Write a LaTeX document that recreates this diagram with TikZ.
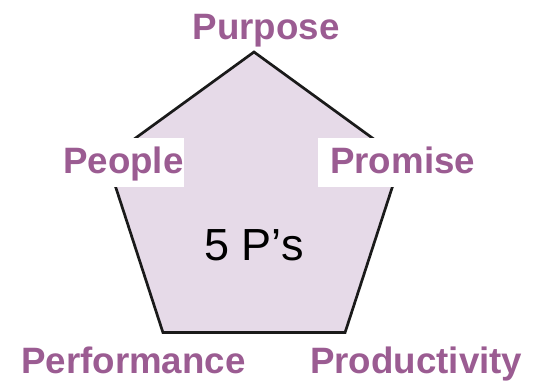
\documentclass[tikz,border=0pt]{standalone}
\usepackage{fontspec}
\setmainfont{Liberation Sans}
\definecolor{lblpurple}{HTML}{9B5C92}
\definecolor{pentfill}{HTML}{E6DAE8}
\definecolor{edgeblack}{HTML}{1A1A1A}
\begin{document}
\begin{tikzpicture}[x=1bp,y=-1bp,
  lbl/.style={text=lblpurple, font=\bfseries\fontsize{36.7bp}{40bp}\selectfont, inner sep=0pt},
  mainlbl/.style={text=black, font=\fontsize{45bp}{50bp}\selectfont, inner sep=0pt},
  pentedge/.style={draw=edgeblack, line width=2.7bp, fill=pentfill, line join=miter}]
\useasboundingbox (0,0) rectangle (537,380);
% pentagon vertices
\coordinate (vtop) at (254,52);
\coordinate (vleft) at (106.6,159.1);
\coordinate (vbl) at (162.9,332.4);
\coordinate (vbr) at (345.1,332.4);
\coordinate (vright) at (401.4,159.1);
\draw[pentedge] (vtop) -- (vright) -- (vbr) -- (vbl) -- (vleft) -- cycle;
% labels
\node[lbl, anchor=base] (purpose) at (266,39) {Purpose};
\node[lbl, fill=white, text height=35bp, text depth=14bp, inner xsep=0pt, anchor=base west] (people) at (63,173) {People};
\node[lbl, fill=white, text height=35bp, text depth=14bp, inner xsep=12bp, anchor=base west] (promise) at (318,173) {Promise};
\node[mainlbl, anchor=base] (fiveps) at (254,260) {5 P’s};
\node[lbl, anchor=base west] (performance) at (21,373) {Performance};
\node[lbl, anchor=base west] (productivity) at (310,373.5) {Productivity};
\end{tikzpicture}
\end{document}
